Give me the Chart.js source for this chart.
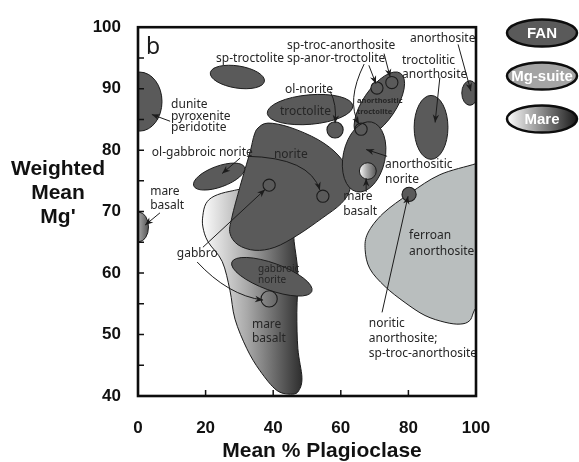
<!DOCTYPE html>
<html>
<head>
<meta charset="utf-8">
<script src="https://cdn.jsdelivr.net/npm/chart.js@4.4.1/dist/chart.umd.min.js"></script>
<style>
  html, body { margin: 0; padding: 0; background: #ffffff; }
  #c { display: block; }
</style>
</head>
<body>
<canvas id="c" width="579" height="462"></canvas>
<script>
// ---- Axis values ----
const xTickValues = [0, 20, 40, 60, 80, 100];
const yTickValues = [40, 50, 60, 70, 80, 90, 100];
const xMinorTicks = [20, 40, 60, 80];
const yMinorTicks = [45, 50, 55, 60, 65, 70, 75, 80, 85, 90, 95];

// ---- Elliptical lithology fields (mean % plagioclase, weighted mean Mg') ----
const fieldNames  = ['dunite-pyroxenite-peridotite', 'sp-troctolite', 'ol-gabbroic norite', 'gabbroic norite',
                     'troctolite', 'anorthositic troctolite', 'anorthositic norite', 'troctolitic anorthosite',
                     'anorthosite', 'mare basalt (low plag)', 'mare basalt (high plag)'];
const fieldX      = [0.5, 29.4, 24.0, 39.6, 50.9, 71.4, 66.9, 86.7, 98.2, 0.3, 68.0];
const fieldY      = [87.9, 91.9, 75.7, 59.4, 86.6, 87.4, 78.9, 83.7, 89.3, 67.5, 76.6];
const fieldHalfW  = [6.6, 8.1, 8.0, 12.6, 12.7, 11.2, 6.2, 5.0, 2.4, 2.8, 2.5];
const fieldHalfH  = [4.8, 1.8, 1.7, 2.2, 2.4, 2.7, 5.8, 5.2, 2.0, 2.4, 1.35];
const fieldTilt   = [0, 9, -20, 20, -5, -56, 12, 0, 0, 0, 0];
const fieldSuite  = ['Mg', 'Mg', 'Mg', 'Mg', 'Mg', 'Mg', 'Mg', 'Mg', 'Mg', 'Mare', 'Mare'];

// ---- Irregular fields, traced outlines ----
const ferroanX = [106, 100, 89.3, 80.5, 72.5, 68.0, 67.2, 68.6, 73.1, 79.0, 84.9, 90.8, 95.3, 98.2, 100.3, 106];
const ferroanY = [79.0, 77.8, 76.0, 73.0, 69.7, 66.5, 63.8, 60.7, 57.8, 55.2, 53.1, 52.0, 51.7, 52.3, 54.5, 56.0];

const mareBasaltX = [19.2, 20.1, 22.5, 27.2, 33.1, 40.5, 45.6, 46.2, 47.3, 47.0, 47.3, 48.5, 47.6, 45.6, 41.1, 36.1, 32.2, 28.7, 27.2, 24.9, 20.7, 19.2];
const mareBasaltY = [69.4, 71.3, 72.5, 73.3, 73.6, 71.7, 68.6, 65.1, 59.9, 53.6, 47.7, 43.0, 40.9, 40.3, 40.9, 44.1, 47.7, 52.5, 57.2, 61.9, 65.1, 67.5];

const noriteX = [35.5, 38.5, 45.0, 53.3, 59.2, 62.4, 62.7, 60.1, 54.4, 47.3, 40.5, 34.6, 29.6, 27.2, 27.8, 30.2, 33.1, 34.3];
const noriteY = [83.6, 84.4, 83.7, 81.7, 79.2, 76.3, 73.6, 71.3, 68.9, 66.2, 64.2, 63.7, 64.6, 66.5, 69.1, 74.1, 79.6, 82.3];

// ---- Sample markers (circles) ----
const markerX    = [58.3, 38.8, 38.8, 54.7, 70.7, 75.1, 66.0, 80.2];
const markerY    = [83.3, 74.3, 55.8, 72.5, 90.1, 91.0, 83.4, 72.8];
const markerSize = [2.4, 1.8, 2.4, 1.8, 1.8, 1.8, 1.8, 2.1];
const markerKind = ['solid', 'open', 'open', 'open', 'solid', 'solid', 'open', 'solid'];

// ---- Leader arrows: start, optional bend, end ----
const arrowFrom = [[9.5, 84.7], [30.2, 78.7], [32.2, 79.0], [56.8, 89.6], [66.9, 94.0], [68.3, 93.8], [72.8, 95.7],
                   [94.7, 97.2], [89.3, 91.8], [73.7, 79.0], [67.5, 73.2], [72.2, 53.6], [19.2, 64.2], [17.5, 61.8], [6.5, 69.8]];
const arrowBend = [null, null, [50.9, 78.8], [58.9, 87.5], [61.5, 88.0], null, null,
                   null, null, null, null, null, null, [26.6, 56.4], null];
const arrowTo   = [[4.1, 85.8], [24.9, 76.2], [53.8, 73.5], [58.3, 84.4], [65.4, 84.2], [70.4, 90.8], [74.6, 91.9],
                   [98.5, 89.6], [87.9, 84.5], [67.5, 80.1], [67.5, 75.4], [79.9, 72.5], [37.6, 73.6], [37.0, 55.6], [2.1, 67.8]];

// ---- Field labels: text, %plag, Mg', size class ----
const labelText = ['sp-troctolite', 'sp-troc-anorthosite', 'sp-anor-troctolite', 'dunite', 'pyroxenite', 'peridotite',
                   'ol-norite', 'troctolite', 'ol-gabbroic norite', 'norite', 'mare', 'basalt', 'gabbro',
                   'gabbroic', 'norite', 'mare', 'basalt', 'anorthositic', 'troctolite', 'anorthositic', 'norite',
                   'mare', 'basalt', 'troctolitic', 'anorthosite', 'anorthosite', 'ferroan', 'anorthosite',
                   'noritic', 'anorthosite;', 'sp-troc-anorthosite'];
const labelX = [23.1, 44.1, 44.1, 9.8, 9.8, 9.8, 43.5, 42.0, 4.1, 40.2, 3.6, 3.6, 11.5,
                35.5, 35.5, 33.7, 33.7, 64.8, 64.8, 73.1, 73.1, 60.7, 60.7, 78.1, 78.1, 80.5, 80.2, 80.2,
                68.3, 68.3, 68.3];
const labelY = [94.9, 97.0, 94.9, 87.4, 85.5, 83.6, 89.9, 86.3, 79.6, 79.3, 73.3, 70.9, 63.1,
                60.7, 58.8, 51.7, 49.3, 88.0, 86.3, 77.7, 75.2, 72.4, 70.0, 94.6, 92.3, 98.1, 66.1, 63.5,
                51.8, 49.3, 46.9];
const labelSize = ['n', 'n', 'n', 'n', 'n', 'n', 'n', 'n', 'n', 'n', 'n', 'n', 'n',
                   's', 's', 'n', 'n', 't', 't', 'n', 'n', 'n', 'n', 'n', 'n', 'n', 'n', 'n',
                   'n', 'n', 'n'];

// ---- Legend entries ----
const legendNames = ['FAN', 'Mg-suite', 'Mare'];

// ---- Styling ----
const INK = '#1c1c1c';
const DARK = '#5a5a5a';
const FERROAN = '#b9bebe';
const labelFonts = { n: '12px "Noto Sans"', s: '10px "Noto Sans"', t: 'bold 7.5px "Noto Sans"' };

function mareGradient(ctx, x0, x1, dark) {
  const g = ctx.createLinearGradient(x0, 0, x1, 0);
  g.addColorStop(0, '#fbfbfb');
  g.addColorStop(0.45, '#a8a8a8');
  g.addColorStop(1, dark || '#2e2e2e');
  return g;
}

function smoothClosedPath(ctx, pts, closed) {
  const n = pts.length;
  const get = i => closed ? pts[(i + n) % n] : pts[Math.max(0, Math.min(n - 1, i))];
  ctx.beginPath();
  ctx.moveTo(pts[0][0], pts[0][1]);
  const segs = closed ? n : n - 1;
  for (let i = 0; i < segs; i++) {
    const p0 = get(i - 1), p1 = get(i), p2 = get(i + 1), p3 = get(i + 2);
    const c1 = [p1[0] + (p2[0] - p0[0]) / 6, p1[1] + (p2[1] - p0[1]) / 6];
    const c2 = [p2[0] - (p3[0] - p1[0]) / 6, p2[1] - (p3[1] - p1[1]) / 6];
    ctx.bezierCurveTo(c1[0], c1[1], c2[0], c2[1], p2[0], p2[1]);
  }
  ctx.closePath();
}

function toPx(chart, xs, ys) {
  const sx = chart.scales.x, sy = chart.scales.y;
  return xs.map((v, i) => [sx.getPixelForValue(v), sy.getPixelForValue(ys[i])]);
}

function unitPx(chart) {
  const sx = chart.scales.x, sy = chart.scales.y;
  return {
    ux: Math.abs(sx.getPixelForValue(1) - sx.getPixelForValue(0)),
    uy: Math.abs(sy.getPixelForValue(1) - sy.getPixelForValue(0))
  };
}

function drawPolygonField(chart, xs, ys, fill, closed) {
  const ctx = chart.ctx;
  const pts = toPx(chart, xs, ys);
  smoothClosedPath(ctx, pts, closed);
  if (fill === 'mare') {
    const minX = Math.min(...pts.map(p => p[0])), maxX = Math.max(...pts.map(p => p[0]));
    ctx.fillStyle = mareGradient(ctx, minX, maxX);
  } else {
    ctx.fillStyle = fill;
  }
  ctx.fill();
  ctx.lineWidth = 1;
  ctx.strokeStyle = INK;
  ctx.stroke();
}

function drawEllipseField(chart, i) {
  const ctx = chart.ctx;
  const { ux, uy } = unitPx(chart);
  const cx = chart.scales.x.getPixelForValue(fieldX[i]);
  const cy = chart.scales.y.getPixelForValue(fieldY[i]);
  const rx = fieldHalfW[i] * ux, ry = fieldHalfH[i] * uy;
  ctx.beginPath();
  ctx.ellipse(cx, cy, rx, ry, fieldTilt[i] * Math.PI / 180, 0, Math.PI * 2);
  if (fieldSuite[i] === 'Mare') {
    ctx.fillStyle = mareGradient(ctx, cx - rx, cx + rx, '#555555');
  } else {
    ctx.fillStyle = DARK;
  }
  ctx.fill();
  ctx.lineWidth = 1;
  ctx.strokeStyle = INK;
  ctx.stroke();
}

function drawArrow(chart, i) {
  const ctx = chart.ctx;
  const sx = chart.scales.x, sy = chart.scales.y;
  const a = [sx.getPixelForValue(arrowFrom[i][0]), sy.getPixelForValue(arrowFrom[i][1])];
  const b = [sx.getPixelForValue(arrowTo[i][0]), sy.getPixelForValue(arrowTo[i][1])];
  const bend = arrowBend[i] ? [sx.getPixelForValue(arrowBend[i][0]), sy.getPixelForValue(arrowBend[i][1])] : null;
  ctx.strokeStyle = INK;
  ctx.fillStyle = INK;
  ctx.lineWidth = 1;
  ctx.beginPath();
  ctx.moveTo(a[0], a[1]);
  if (bend) ctx.quadraticCurveTo(bend[0], bend[1], b[0], b[1]);
  else ctx.lineTo(b[0], b[1]);
  ctx.stroke();
  const from = bend || a;
  const ang = Math.atan2(b[1] - from[1], b[0] - from[0]);
  const L = 8, W = 3.2;
  ctx.beginPath();
  ctx.moveTo(b[0], b[1]);
  ctx.lineTo(b[0] - L * Math.cos(ang) + W * Math.sin(ang), b[1] - L * Math.sin(ang) - W * Math.cos(ang));
  ctx.lineTo(b[0] - L * 0.7 * Math.cos(ang), b[1] - L * 0.7 * Math.sin(ang));
  ctx.lineTo(b[0] - L * Math.cos(ang) - W * Math.sin(ang), b[1] - L * Math.sin(ang) + W * Math.cos(ang));
  ctx.closePath();
  ctx.fill();
}

const fieldsPlugin = {
  id: 'lithologyFields',
  beforeDatasetsDraw(chart) {
    const ctx = chart.ctx, area = chart.chartArea;
    ctx.save();
    ctx.beginPath();
    ctx.rect(area.left, area.top, area.right - area.left, area.bottom - area.top);
    ctx.clip();
    const idx = name => fieldNames.indexOf(name);
    drawPolygonField(chart, ferroanX, ferroanY, FERROAN, false);
    drawPolygonField(chart, mareBasaltX, mareBasaltY, 'mare', true);
    drawEllipseField(chart, idx('gabbroic norite'));
    drawEllipseField(chart, idx('ol-gabbroic norite'));
    drawPolygonField(chart, noriteX, noriteY, DARK, true);
    ['dunite-pyroxenite-peridotite', 'sp-troctolite', 'troctolite', 'anorthositic troctolite',
     'anorthositic norite', 'troctolitic anorthosite', 'anorthosite',
     'mare basalt (low plag)', 'mare basalt (high plag)'].forEach(n => drawEllipseField(chart, idx(n)));
    ctx.restore();
  },
  afterDatasetsDraw(chart) {
    const ctx = chart.ctx, area = chart.chartArea;
    const sx = chart.scales.x, sy = chart.scales.y;
    ctx.save();
    for (let i = 0; i < arrowFrom.length; i++) drawArrow(chart, i);

    ctx.fillStyle = '#262626';
    ctx.textAlign = 'left';
    ctx.textBaseline = 'middle';
    for (let i = 0; i < labelText.length; i++) {
      ctx.font = labelFonts[labelSize[i]];
      ctx.fillText(labelText[i], sx.getPixelForValue(labelX[i]), sy.getPixelForValue(labelY[i]));
    }
    // panel letter
    ctx.font = '23px "Noto Sans"';
    ctx.fillStyle = '#1a1a1a';
    ctx.textBaseline = 'alphabetic';
    ctx.fillText('b', area.left + 8, area.top + 27);

    // inward tick marks
    ctx.strokeStyle = '#111';
    ctx.lineWidth = 1.5;
    ctx.beginPath();
    xMinorTicks.forEach(v => {
      const x = sx.getPixelForValue(v);
      ctx.moveTo(x, area.bottom);
      ctx.lineTo(x, area.bottom - 6);
    });
    yMinorTicks.forEach(v => {
      const y = sy.getPixelForValue(v);
      ctx.moveTo(area.left, y);
      ctx.lineTo(area.left + 6, y);
    });
    ctx.stroke();

    // frame
    ctx.lineWidth = 2.6;
    ctx.strokeStyle = '#0d0d0d';
    ctx.strokeRect(area.left, area.top, area.right - area.left, area.bottom - area.top);
    ctx.restore();
  },
  afterDraw(chart) {
    const ctx = chart.ctx, area = chart.chartArea;
    ctx.save();
    // axis titles
    ctx.fillStyle = '#111';
    ctx.font = 'bold 21px "Liberation Sans", Arial, sans-serif';
    ctx.textAlign = 'center';
    ctx.textBaseline = 'middle';
    ctx.fillText('Mean % Plagioclase', (area.left + area.right) / 2 + 15, 451);
    ['Weighted', 'Mean', "Mg'"].forEach((t, i) => ctx.fillText(t, 58, 169 + i * 24));

    // legend
    const fills = [DARK, '#a4a4a4', 'mare'];
    legendNames.forEach((name, i) => {
      const cx = 542, cy = 33 + i * 43, rx = 35, ry = 13.5;
      ctx.beginPath();
      ctx.ellipse(cx, cy, rx, ry, 0, 0, Math.PI * 2);
      ctx.fillStyle = fills[i] === 'mare' ? (() => {
        const g = ctx.createLinearGradient(cx - rx, 0, cx + rx, 0);
        g.addColorStop(0, '#ffffff');
        g.addColorStop(0.5, '#8a8a8a');
        g.addColorStop(1, '#1a1a1a');
        return g;
      })() : fills[i];
      ctx.fill();
      ctx.lineWidth = 2.5;
      ctx.strokeStyle = '#0d0d0d';
      ctx.stroke();
      ctx.fillStyle = '#ffffff';
      ctx.font = 'bold 15px "Liberation Sans", Arial, sans-serif';
      ctx.fillText(name, cx, cy + 1);
    });
    ctx.restore();
  }
};

new Chart(document.getElementById('c'), {
  type: 'scatter',
  data: {
    datasets: [{
      label: 'samples',
      data: markerX.map((x, i) => ({ x: x, y: markerY[i] })),
      pointRadius: c => markerSize[c.dataIndex] * unitPx(c.chart).ux,
      pointHoverRadius: c => markerSize[c.dataIndex] * unitPx(c.chart).ux,
      pointBackgroundColor: c => markerKind[c.dataIndex] === 'solid' ? DARK : 'rgba(0,0,0,0)',
      pointBorderColor: INK,
      pointBorderWidth: 1.1,
      showLine: false
    }]
  },
  options: {
    responsive: false,
    animation: false,
    devicePixelRatio: 1,
    layout: { padding: { left: 0, top: 16, right: 103, bottom: 0 } },
    plugins: { legend: { display: false }, tooltip: { enabled: false } },
    scales: {
      x: {
        type: 'linear', min: 0, max: 100,
        afterBuildTicks: s => { s.ticks = xTickValues.map(v => ({ value: v })); },
        afterFit: s => { s.height = 66; },
        grid: { display: false, drawTicks: false },
        border: { display: false },
        ticks: { autoSkip: false, maxRotation: 0, padding: 22, color: '#111',
                 font: { family: '"Liberation Sans", Arial, sans-serif', size: 17, weight: 'bold' } }
      },
      y: {
        type: 'linear', min: 40, max: 100,
        afterBuildTicks: s => { s.ticks = yTickValues.map(v => ({ value: v })); },
        afterFit: s => { s.width = 138; },
        grid: { display: false, drawTicks: false },
        border: { display: false },
        ticks: { autoSkip: false, padding: 17, color: '#111',
                 font: { family: '"Liberation Sans", Arial, sans-serif', size: 17, weight: 'bold' } }
      }
    }
  },
  plugins: [fieldsPlugin]
});
</script>
</body>
</html>
